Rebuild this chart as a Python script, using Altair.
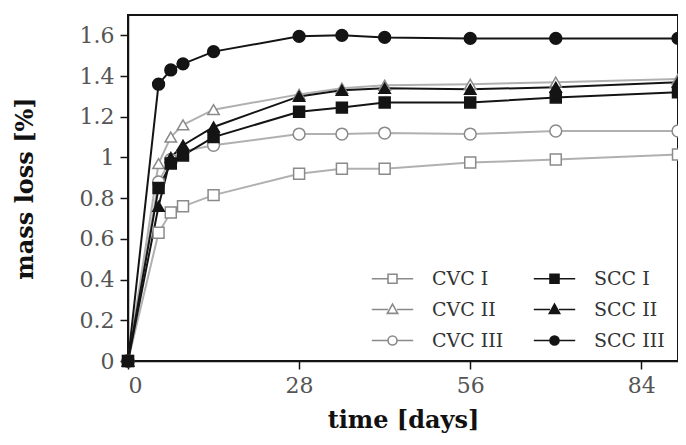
import altair as alt
import pandas as pd

# ---- data ----
days = [0, 5, 7, 9, 14, 28, 35, 42, 56, 70, 90]
cvc_1 = [0, 0.63, 0.73, 0.76, 0.815, 0.92, 0.945, 0.945, 0.975, 0.99, 1.015]
cvc_2 = [0, 0.97, 1.10, 1.16, 1.235, 1.31, 1.34, 1.355, 1.36, 1.37, 1.385]
cvc_3 = [0, 0.88, 0.99, 1.03, 1.06, 1.115, 1.115, 1.12, 1.115, 1.13, 1.13]
scc_1 = [0, 0.85, 0.97, 1.01, 1.10, 1.225, 1.245, 1.27, 1.27, 1.295, 1.32]
scc_2 = [0, 0.76, 1.00, 1.06, 1.15, 1.30, 1.33, 1.34, 1.335, 1.345, 1.37]
scc_3 = [0, 1.36, 1.43, 1.46, 1.52, 1.595, 1.60, 1.59, 1.585, 1.585, 1.585]

series_names = ["CVC I", "CVC II", "CVC III", "SCC I", "SCC II", "SCC III"]
series_values = [cvc_1, cvc_2, cvc_3, scc_1, scc_2, scc_3]
series_kind = ["square", "triangle-up", "circle", "square", "triangle-up", "circle"]

x_ticks = [0, 28, 56, 84]
y_ticks = [0, 0.2, 0.4, 0.6, 0.8, 1.0, 1.2, 1.4, 1.6]

rows = []
for name, vals in zip(series_names, series_values):
    for d, v in zip(days, vals):
        rows.append({"series": name, "day": d, "loss": v})
df = pd.DataFrame(rows)

# ---- styles ----
GRAY_LINE = "#b0b0b0"
GRAY_MARK = "#8a8a8a"
BLACK = "#141414"
line_colors = [GRAY_LINE, GRAY_LINE, GRAY_LINE, BLACK, BLACK, BLACK]
stroke_colors = [GRAY_MARK, GRAY_MARK, GRAY_MARK, BLACK, BLACK, BLACK]
fill_colors = ["#ffffff", "#ffffff", "#ffffff", BLACK, BLACK, BLACK]
marker_sizes = {"square": 120, "triangle-up": 130, "circle": 140}

LINE = "M -4.6 0 L -1 0 M 1 0 L 4.6 0 "
SQ = "M -1 -1 L 1 -1 L 1 1 L -1 1 Z"
TRI = "M 0 -1.2 L 1.15 0.85 L -1.15 0.85 Z"
CIRC = "M -1 0 A 1 1 0 1 1 1 0 A 1 1 0 1 1 -1 0 Z"
legend_paths = [LINE + SQ, LINE + TRI, LINE + CIRC, LINE + SQ, LINE + TRI, LINE + CIRC]

stroke_scale = alt.Scale(domain=series_names, range=stroke_colors)
fill_scale = alt.Scale(domain=series_names, range=fill_colors)
shape_scale = alt.Scale(domain=series_names, range=legend_paths)

FONT = "DejaVu Serif"

x_enc = alt.X(
    "day:Q",
    scale=alt.Scale(domain=[0, 90], nice=False, zero=False),
    axis=alt.Axis(values=x_ticks, title="time [days]", titlePadding=12),
)
y_enc = alt.Y(
    "loss:Q",
    scale=alt.Scale(domain=[0, 1.7], nice=False),
    axis=alt.Axis(values=y_ticks, format="~g", title="mass loss [%]", titlePadding=42),
)

base = alt.Chart(df)

line_layers = []
point_layers = []
for name, kind, lc, sc, fc in zip(series_names, series_kind, line_colors, stroke_colors, fill_colors):
    sub = base.transform_filter(alt.datum.series == name)
    line_layers.append(
        sub.mark_line(stroke=lc, strokeWidth=2).encode(x=x_enc, y=y_enc)
    )
    point_layers.append(
        sub.mark_point(
            shape=kind, filled=True, fill=fc, stroke=sc, opacity=1,
            size=marker_sizes[kind], strokeWidth=1.5,
        ).encode(x=x_enc, y=y_enc)
    )

leg = alt.Legend(
    title=None, orient="none", legendX=255, legendY=254, columns=2,
    labelOffset=30, columnPadding=26, rowPadding=11, symbolSize=81,
    symbolStrokeWidth=1.6, labelFont=FONT, labelFontSize=19, labelColor="#333",
    padding=0,
)

legend_layer = (
    base.transform_filter("false")
    .mark_point(filled=True, opacity=1, size=81, strokeWidth=1.6)
    .encode(
        x=x_enc, y=y_enc,
        shape=alt.Shape("series:N", scale=shape_scale, legend=leg),
        fill=alt.Fill("series:N", scale=fill_scale, legend=leg),
        stroke=alt.Stroke("series:N", scale=stroke_scale, legend=leg),
    )
)

chart = (
    alt.layer(*line_layers, *point_layers, legend_layer)
    .properties(
        width=550, height=346,
        autosize=alt.AutoSizeParams(type="none"),
        padding={"left": 120, "top": 7, "right": 0, "bottom": 74},
    )
    .configure_view(stroke=BLACK, strokeWidth=2)
    .configure_axis(
        grid=False, domainColor=BLACK, domainWidth=1.5, tickColor=BLACK,
        tickWidth=1.5, tickSize=8, labelFont=FONT, labelFontSize=22,
        labelColor="#555", labelPadding=6, titleFont=FONT, titleFontSize=24,
        titleFontWeight="bold", titleColor="#111",
    )
)

chart.save("out.html", embed_options={"renderer": "svg", "actions": False})
